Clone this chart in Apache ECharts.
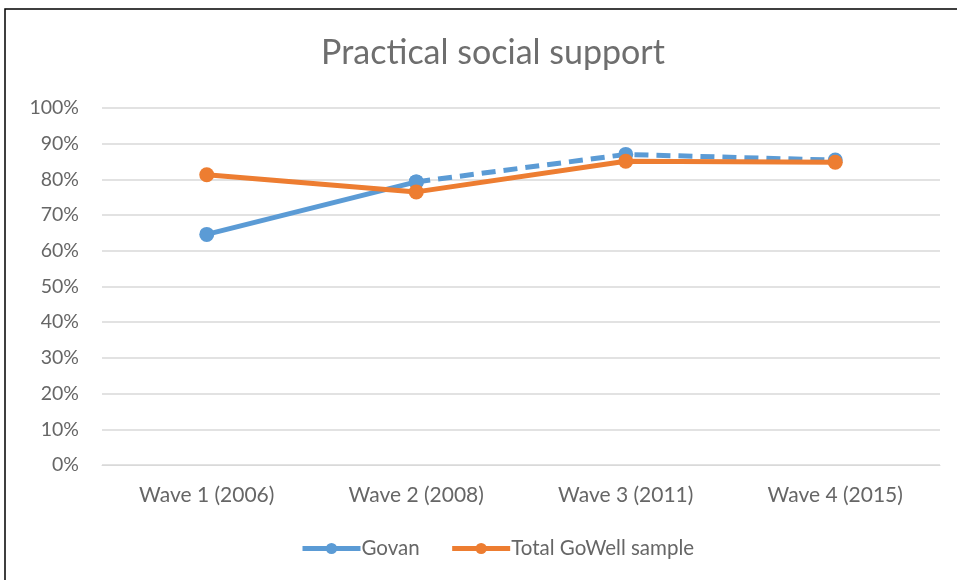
<!DOCTYPE html>
<html><head><meta charset="utf-8">
<script src="https://cdn.jsdelivr.net/npm/echarts@6/dist/echarts.min.js"></script>
<style>html,body{margin:0;padding:0;background:#fff}#c{width:957px;height:580px}</style>
</head><body><div id="c"></div>
<script>
var categories = ['Wave 1 (2006)', 'Wave 2 (2008)', 'Wave 3 (2011)', 'Wave 4 (2015)'];
var govan = [64.6, 79.3, 87.0, 85.4];
var totalGoWell = [81.3, 76.5, 85.1, 84.8];
var solidUntil = 1; // Govan solid through Wave 2, dashed after

var blue = '#5B9BD5', orange = '#ED7D31', gray = '#666666';
var govanSolid = govan.map(function(v, i){ return i <= solidUntil ? v : '-'; });
var govanDashed = govan.map(function(v, i){ return i >= solidUntil ? v : '-'; });
var font = 'Lato';

var chart = echarts.init(document.getElementById('c'));
chart.setOption({
  animation: false,
  title: { text: 'Practical social support', left: 488, top: 31, textAlign: 'center',
    textStyle: { fontFamily: font, fontSize: 34, fontWeight: 'normal', color: '#6e6e6e' } },
  graphic: [{ type: 'rect', shape: { x: 5, y: 9, width: 1000, height: 700 },
    style: { fill: 'none', stroke: '#000', lineWidth: 1.5 }, silent: true }],
  grid: { left: 102, right: 17, top: 108, bottom: 115 },
  legend: { bottom: 16, left: 295, itemWidth: 58, itemHeight: 14, itemGap: 30,
    data: ['Govan', 'Total GoWell sample'],
    lineStyle: { width: 5 },
    textStyle: { fontFamily: font, fontSize: 20.5, color: gray, padding: [0, 0, 0, -4] } },
  xAxis: { type: 'category', data: categories, boundaryGap: true,
    axisLine: { show: true, lineStyle: { color: '#d9d9d9', width: 1 } },
    axisTick: { show: false },
    axisLabel: { fontFamily: font, fontSize: 21, color: gray, margin: 20 } },
  yAxis: { type: 'value', min: 0, max: 100, interval: 10,
    axisLine: { show: false }, axisTick: { show: false },
    splitLine: { lineStyle: { color: '#d9d9d9', width: 1.5 } },
    axisLabel: { fontFamily: font, fontSize: 19.5, color: gray, margin: 23, formatter: '{value}%' } },
  series: [
    { name: 'Govan', type: 'line', data: govanSolid, color: blue, symbol: 'circle', symbolSize: 15,
      lineStyle: { width: 5, color: blue }, itemStyle: { color: blue }, z: 2 },
    { name: 'Govan', type: 'line', data: govanDashed, color: blue, symbol: 'circle', symbolSize: 15,
      lineStyle: { width: 5, color: blue, type: [14, 8] }, itemStyle: { color: blue }, z: 2 },
    { name: 'Total GoWell sample', type: 'line', data: totalGoWell, color: orange, symbol: 'circle', symbolSize: 15,
      lineStyle: { width: 5, color: orange }, itemStyle: { color: orange }, z: 3 }
  ]
});
</script></body></html>
